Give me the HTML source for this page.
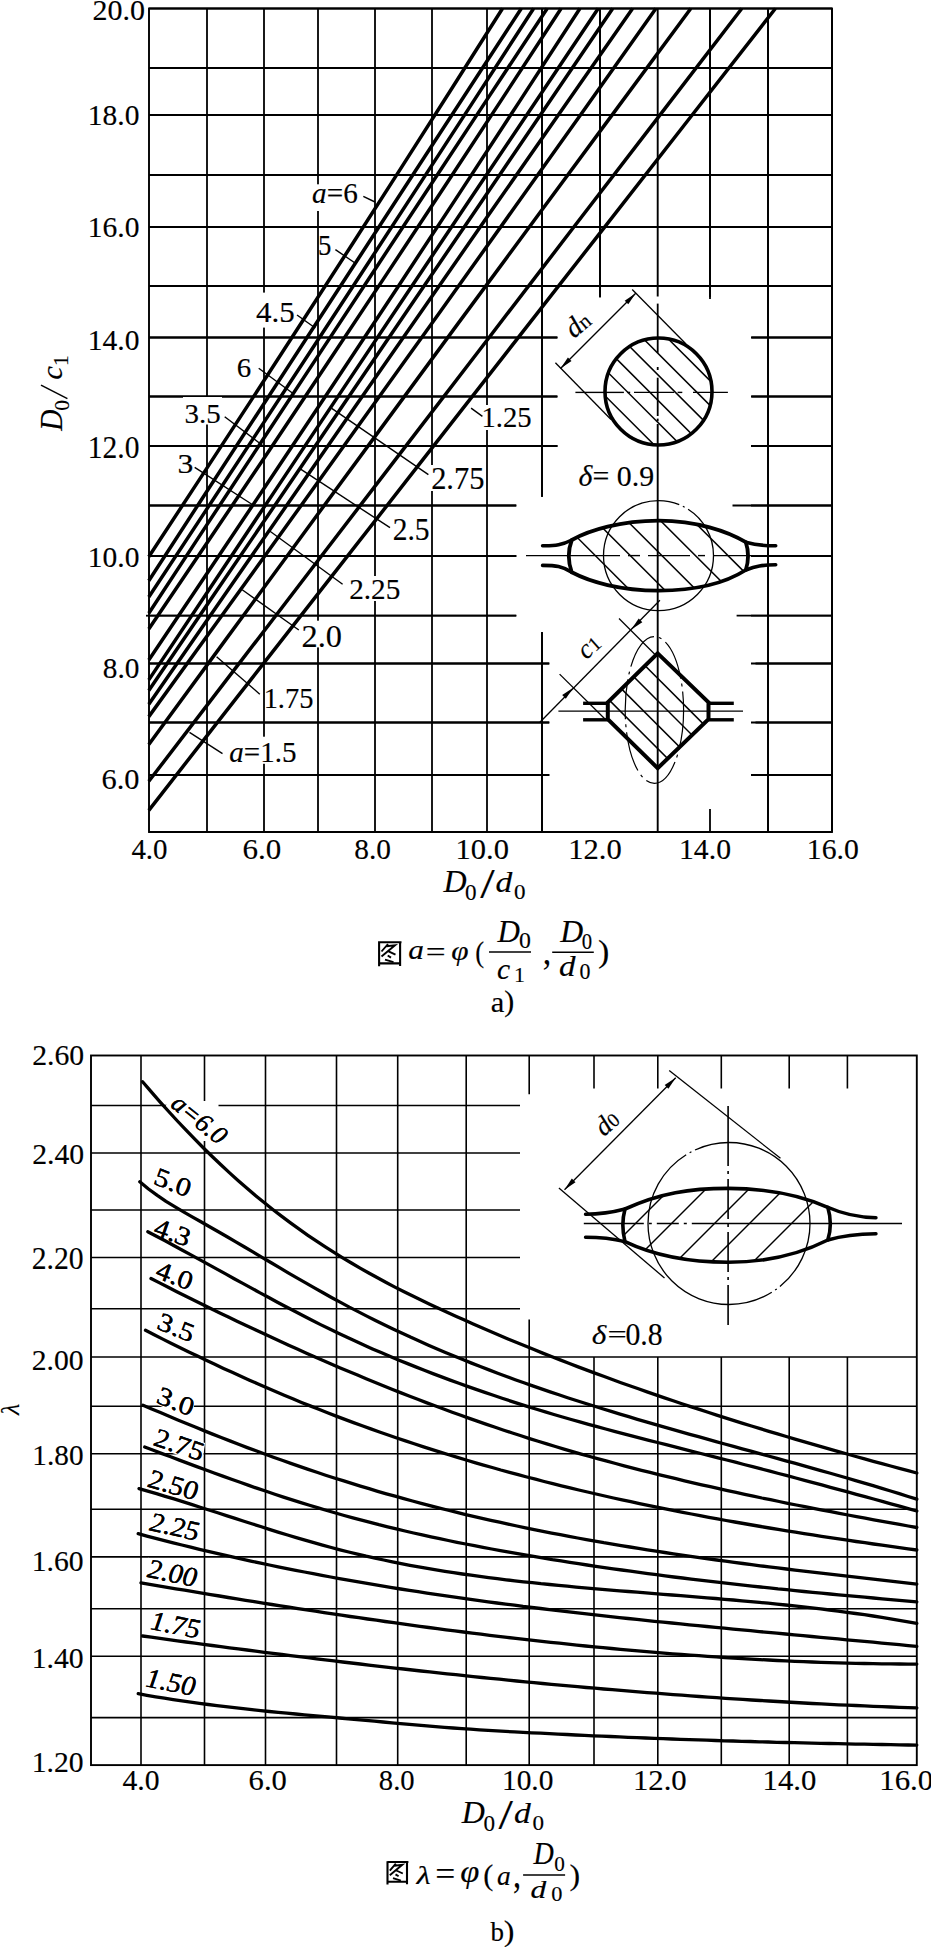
<!DOCTYPE html><html><head><meta charset="utf-8"><style>html,body{margin:0;padding:0;background:#fff;width:931px;height:1947px;overflow:hidden}svg{display:block}text{font-family:"Liberation Serif",serif;fill:#000;stroke:#000;stroke-width:0.15px}</style></head><body>
<svg width="931" height="1947" viewBox="0 0 931 1947" stroke="#000" fill="none" stroke-linecap="butt">
<line x1="207" y1="8.5" x2="207" y2="832" stroke-width="1.8"/>
<line x1="264" y1="8.5" x2="264" y2="832" stroke-width="1.8"/>
<line x1="318" y1="8.5" x2="318" y2="832" stroke-width="1.8"/>
<line x1="375" y1="8.5" x2="375" y2="832" stroke-width="1.8"/>
<line x1="432" y1="8.5" x2="432" y2="832" stroke-width="1.8"/>
<line x1="487" y1="8.5" x2="487" y2="832" stroke-width="1.8"/>
<line x1="542" y1="8.5" x2="542" y2="832" stroke-width="1.8"/>
<line x1="600" y1="8.5" x2="600" y2="832" stroke-width="1.8"/>
<line x1="710" y1="8.5" x2="710" y2="832" stroke-width="1.8"/>
<line x1="768" y1="8.5" x2="768" y2="832" stroke-width="1.8"/>
<line x1="149" y1="68" x2="832" y2="68" stroke-width="1.8"/>
<line x1="149" y1="115" x2="832" y2="115" stroke-width="1.8"/>
<line x1="149" y1="175" x2="832" y2="175" stroke-width="1.8"/>
<line x1="149" y1="227" x2="832" y2="227" stroke-width="1.8"/>
<line x1="149" y1="286" x2="832" y2="286" stroke-width="1.8"/>
<line x1="149" y1="337.5" x2="832" y2="337.5" stroke-width="1.8"/>
<line x1="149" y1="396.5" x2="832" y2="396.5" stroke-width="1.8"/>
<line x1="149" y1="446" x2="832" y2="446" stroke-width="1.8"/>
<line x1="149" y1="505.5" x2="832" y2="505.5" stroke-width="1.8"/>
<line x1="149" y1="556" x2="832" y2="556" stroke-width="1.8"/>
<line x1="149" y1="615.7" x2="832" y2="615.7" stroke-width="1.8"/>
<line x1="149" y1="663.5" x2="832" y2="663.5" stroke-width="1.8"/>
<line x1="149" y1="722.5" x2="832" y2="722.5" stroke-width="1.8"/>
<line x1="149" y1="775" x2="832" y2="775" stroke-width="1.8"/>
<rect x="149" y="8.5" width="683" height="823.5" stroke-width="1.9"/>
<path fill="#fff" stroke="none" d="M557,297 H751 V832 H557 Z"/>
<path fill="#fff" stroke="none" d="M516.5,497 H557 V632 H516.5 Z"/>
<path fill="#fff" stroke="none" d="M549.5,632 H557 V832 H549.5 Z"/>
<path fill="#fff" stroke="none" d="M543.5,440 H557 V497 H543.5 Z"/>
<line x1="657.7" y1="8.5" x2="657.7" y2="296.5" stroke-width="1.9"/>
<line x1="657.7" y1="424" x2="657.7" y2="832" stroke-width="1.9"/>
<line x1="710" y1="8.5" x2="710" y2="299" stroke-width="1.8"/>
<line x1="710" y1="809" x2="710" y2="832" stroke-width="1.8"/>
<line x1="600" y1="8.5" x2="600" y2="297.5" stroke-width="1.8"/>
<line x1="751.5" y1="337.5" x2="832" y2="337.5" stroke-width="1.8"/>
<line x1="751.5" y1="396.5" x2="832" y2="396.5" stroke-width="1.8"/>
<line x1="751.5" y1="446" x2="832" y2="446" stroke-width="1.8"/>
<line x1="732.5" y1="505.5" x2="832" y2="505.5" stroke-width="1.8"/>
<line x1="736.6" y1="615.7" x2="832" y2="615.7" stroke-width="1.8"/>
<line x1="755.5" y1="663.5" x2="832" y2="663.5" stroke-width="1.8"/>
<line x1="149" y1="663.5" x2="549" y2="663.5" stroke-width="1.8"/>
<line x1="755.5" y1="722.5" x2="832" y2="722.5" stroke-width="1.8"/>
<line x1="149" y1="722.5" x2="549" y2="722.5" stroke-width="1.8"/>
<line x1="755.5" y1="775" x2="832" y2="775" stroke-width="1.8"/>
<line x1="149" y1="775" x2="549" y2="775" stroke-width="1.8"/>
<line x1="149" y1="337.5" x2="557.7" y2="337.5" stroke-width="1.8"/>
<line x1="149" y1="396.5" x2="557.7" y2="396.5" stroke-width="1.8"/>
<line x1="149" y1="446" x2="557.7" y2="446" stroke-width="1.8"/>
<line x1="149" y1="505.5" x2="516" y2="505.5" stroke-width="1.8"/>
<line x1="149" y1="556" x2="516" y2="556" stroke-width="1.8"/>
<line x1="149" y1="615.7" x2="516" y2="615.7" stroke-width="1.8"/>
<line x1="768" y1="8.5" x2="768" y2="832" stroke-width="1.8"/>
<line x1="542" y1="632.2" x2="542" y2="832" stroke-width="1.8"/>
<line x1="542" y1="8.5" x2="542" y2="496.6" stroke-width="1.8"/>
<line x1="149" y1="8.5" x2="832" y2="8.5" stroke-width="1.9"/>
<line x1="832" y1="8.5" x2="832" y2="832" stroke-width="2.0"/>
<line x1="149" y1="832" x2="832" y2="832" stroke-width="2.0"/>
<line x1="751.5" y1="556" x2="832" y2="556" stroke-width="1.8"/>
<line x1="146" y1="615.7" x2="149" y2="615.7" stroke-width="1.8"/>
<rect x="310" y="184.3" width="50" height="26.7" fill="#fff" stroke="none"/>
<rect x="319.5" y="233" width="13.5" height="25" fill="#fff" stroke="none"/>
<rect x="253" y="292.6" width="43" height="35" fill="#fff" stroke="none"/>
<rect x="235" y="356" width="18" height="24" fill="#fff" stroke="none"/>
<rect x="183" y="397" width="39" height="27.5" fill="#fff" stroke="none"/>
<rect x="176" y="451" width="18" height="24" fill="#fff" stroke="none"/>
<rect x="430" y="465" width="56" height="26" fill="#fff" stroke="none"/>
<rect x="391" y="516" width="40" height="27" fill="#fff" stroke="none"/>
<rect x="348" y="576" width="54" height="25" fill="#fff" stroke="none"/>
<rect x="300" y="620.7" width="44" height="26.7" fill="#fff" stroke="none"/>
<rect x="265.5" y="686" width="49.5" height="25" fill="#fff" stroke="none"/>
<rect x="227" y="736.7" width="71" height="27.1" fill="#fff" stroke="none"/>
<rect x="481" y="405" width="52" height="25" fill="#fff" stroke="none"/>
<g transform="translate(312.12,202.50) scale(0.989,1)"><text x="0.00" y="0.00" font-size="29.55" font-style="italic">a</text><text x="14.78" y="0.00" font-size="29.55">=6</text></g>
<line x1="363.3" y1="196.4" x2="375" y2="202" stroke-width="1.4"/>
<g transform="translate(317.89,254.90) scale(0.881,1)"><text x="0.00" y="0.00" font-size="30.38">5</text></g>
<line x1="335.4" y1="249.6" x2="354.3" y2="262.5" stroke-width="1.4"/>
<g transform="translate(255.88,322.06) scale(1.047,1)"><text x="0.00" y="0.00" font-size="29.63">4.5</text></g>
<line x1="297" y1="315" x2="315.3" y2="328" stroke-width="1.4"/>
<g transform="translate(236.70,377.03) scale(1.060,1)"><text x="0.00" y="0.00" font-size="27.31">6</text></g>
<line x1="258.7" y1="368.2" x2="293.4" y2="393.7" stroke-width="1.4"/>
<g transform="translate(184.55,422.58) scale(1.029,1)"><text x="0.00" y="0.00" font-size="28.15">3.5</text></g>
<line x1="224.7" y1="416.8" x2="264.2" y2="446.7" stroke-width="1.4"/>
<g transform="translate(177.41,472.72) scale(1.118,1)"><text x="0.00" y="0.00" font-size="28.36">3</text></g>
<line x1="194.7" y1="467.4" x2="253" y2="505" stroke-width="1.4"/>
<g transform="translate(431.13,488.53) scale(0.979,1)"><text x="0.00" y="0.00" font-size="31.11">2.75</text></g>
<line x1="331.7" y1="408.4" x2="428.4" y2="474.7" stroke-width="1.4"/>
<g transform="translate(392.67,539.92) scale(0.931,1)"><text x="0.00" y="0.00" font-size="31.70">2.5</text></g>
<line x1="300.6" y1="469.2" x2="390" y2="527.7" stroke-width="1.4"/>
<g transform="translate(349.18,598.56) scale(0.987,1)"><text x="0.00" y="0.00" font-size="29.63">2.25</text></g>
<line x1="270" y1="531.3" x2="342.6" y2="584.3" stroke-width="1.4"/>
<g transform="translate(301.54,646.54) scale(1.048,1)"><text x="0.00" y="0.00" font-size="30.88">2.0</text></g>
<line x1="242.2" y1="589.7" x2="298.8" y2="630" stroke-width="1.4"/>
<g transform="translate(263.64,707.56) scale(0.970,1)"><text x="0.00" y="0.00" font-size="29.33">1.75</text></g>
<line x1="216.6" y1="656.7" x2="259.8" y2="694.2" stroke-width="1.4"/>
<g transform="translate(229.33,762.46) scale(0.990,1)"><text x="0.00" y="0.00" font-size="29.33" font-style="italic">a</text><text x="14.67" y="0.00" font-size="29.33">=1.5</text></g>
<line x1="189.5" y1="732.3" x2="222.5" y2="753.6" stroke-width="1.4"/>
<g transform="translate(481.42,427.25) scale(0.959,1)"><text x="0.00" y="0.00" font-size="29.93">1.25</text></g>
<line x1="471.1" y1="408.1" x2="482.4" y2="416.4" stroke-width="1.4"/>
<path d="M148.8,556.7 L200.2,478.4 L251.3,400.1 L302.1,321.8 L352.7,243.5 L402.9,165.1 L452.9,86.8 L502.5,8.5" stroke-width="3.5" fill="none"/>
<path d="M148.8,580.7 L201.9,499.0 L255.1,417.2 L308.3,335.5 L361.5,253.7 L414.7,172.0 L468.0,90.2 L521.3,8.5" stroke-width="3.5" fill="none"/>
<path d="M148.8,597.0 L204.3,512.9 L259.6,428.9 L314.8,344.8 L369.7,260.7 L424.5,176.6 L479.1,92.6 L533.6,8.5" stroke-width="3.5" fill="none"/>
<path d="M148.8,613.3 L205.5,526.9 L262.3,440.5 L319.2,354.1 L376.1,267.7 L433.1,181.3 L490.1,94.9 L547.2,8.5" stroke-width="3.5" fill="none"/>
<path d="M148.8,629.0 L208.8,540.3 L268.4,451.7 L327.6,363.0 L386.5,274.4 L445.1,185.8 L503.3,97.1 L561.1,8.5" stroke-width="3.5" fill="none"/>
<path d="M148.8,659.9 L211.5,566.8 L273.8,473.8 L335.8,380.7 L397.4,287.7 L458.6,194.6 L519.4,101.6 L579.9,8.5" stroke-width="3.5" fill="none"/>
<path d="M148.8,679.9 L212.8,584.0 L276.8,488.1 L340.9,392.1 L405.1,296.2 L469.4,200.3 L533.8,104.4 L598.2,8.5" stroke-width="3.5" fill="none"/>
<path d="M148.8,690.6 L215.1,593.1 L281.4,495.7 L347.7,398.2 L414.0,300.8 L480.3,203.4 L546.5,105.9 L612.7,8.5" stroke-width="3.5" fill="none"/>
<path d="M148.8,704.3 L217.6,604.9 L286.6,505.5 L355.6,406.1 L424.7,306.7 L493.9,207.3 L563.2,107.9 L632.6,8.5" stroke-width="3.5" fill="none"/>
<path d="M148.8,716.6 L221.9,615.5 L294.8,514.3 L367.5,413.1 L440.0,312.0 L512.2,210.8 L584.2,109.7 L655.9,8.5" stroke-width="3.5" fill="none"/>
<path d="M148.8,744.5 L225.9,639.4 L303.1,534.2 L380.4,429.1 L457.8,323.9 L535.4,218.8 L613.1,113.6 L690.8,8.5" stroke-width="3.5" fill="none"/>
<path d="M148.8,781.3 L233.4,670.9 L318.0,560.5 L402.7,450.1 L487.4,339.7 L572.1,229.3 L657.0,118.9 L741.8,8.5" stroke-width="3.5" fill="none"/>
<path d="M148.8,810.3 L238.3,695.7 L327.9,581.2 L417.4,466.7 L506.9,352.1 L596.4,237.6 L685.9,123.0 L775.4,8.5" stroke-width="3.5" fill="none"/>
<g transform="translate(92.55,20.25) scale(1.006,1)"><text x="0.00" y="0.00" font-size="29.85">20.0</text></g>
<g transform="translate(87.84,124.65) scale(0.988,1)"><text x="0.00" y="0.00" font-size="29.85">18.0</text></g>
<g transform="translate(87.84,236.64) scale(0.969,1)"><text x="0.00" y="0.00" font-size="30.44">16.0</text></g>
<g transform="translate(87.84,350.35) scale(0.988,1)"><text x="0.00" y="0.00" font-size="29.85">14.0</text></g>
<g transform="translate(87.84,457.73) scale(0.951,1)"><text x="0.00" y="0.00" font-size="31.03">12.0</text></g>
<g transform="translate(87.84,566.65) scale(0.988,1)"><text x="0.00" y="0.00" font-size="29.85">10.0</text></g>
<g transform="translate(102.83,677.75) scale(0.982,1)"><text x="0.00" y="0.00" font-size="29.85">8.0</text></g>
<g transform="translate(101.53,789.24) scale(0.998,1)"><text x="0.00" y="0.00" font-size="30.44">6.0</text></g>
<g transform="translate(131.42,859.27) scale(0.998,1)"><text x="0.00" y="0.00" font-size="28.97">4.0</text></g>
<g transform="translate(242.41,859.27) scale(1.070,1)"><text x="0.00" y="0.00" font-size="28.97">6.0</text></g>
<g transform="translate(354.32,859.27) scale(1.015,1)"><text x="0.00" y="0.00" font-size="28.97">8.0</text></g>
<g transform="translate(455.56,859.27) scale(1.053,1)"><text x="0.00" y="0.00" font-size="28.97">10.0</text></g>
<g transform="translate(568.25,859.27) scale(1.055,1)"><text x="0.00" y="0.00" font-size="28.97">12.0</text></g>
<g transform="translate(679.03,859.27) scale(1.025,1)"><text x="0.00" y="0.00" font-size="28.97">14.0</text></g>
<g transform="translate(806.83,859.27) scale(1.025,1)"><text x="0.00" y="0.00" font-size="28.97">16.0</text></g>
<g transform="translate(0,500) rotate(-90)">
<g transform="translate(69.29,62.10) scale(0.948,1)"><text x="0.00" y="0.00" font-size="30.99" font-style="italic">D</text></g>
<g transform="translate(89.14,68.68) scale(0.984,1)"><text x="0.00" y="0.00" font-size="21.78">0</text></g>
<g transform="translate(120.28,61.81) scale(1.057,1)"><text x="0.00" y="0.00" font-size="28.96" font-style="italic">c</text></g>
<g transform="translate(134.05,67.70) scale(1.000,1)"><text x="0.00" y="0.00" font-size="21.52">1</text></g>
</g>
<line x1="41" y1="385.2" x2="67.4" y2="398.7" stroke-width="1.5"/>
<clipPath id="cc"><circle cx="658.5" cy="391.5" r="53.5"/></clipPath>
<line x1="458.5" y1="129.1" x2="858.5" y2="529.1" stroke-width="1.5" clip-path="url(#cc)"/>
<line x1="458.5" y1="153.9" x2="858.5" y2="553.9" stroke-width="1.5" clip-path="url(#cc)"/>
<line x1="458.5" y1="175.4" x2="858.5" y2="575.4" stroke-width="1.5" clip-path="url(#cc)"/>
<line x1="458.5" y1="200.9" x2="858.5" y2="600.9" stroke-width="1.5" clip-path="url(#cc)"/>
<line x1="458.5" y1="223.0" x2="858.5" y2="623.0" stroke-width="1.5" clip-path="url(#cc)"/>
<line x1="458.5" y1="249.2" x2="858.5" y2="649.2" stroke-width="1.5" clip-path="url(#cc)"/>
<circle cx="658.5" cy="391.5" r="53.5" stroke-width="3.6" fill="none"/>
<line x1="595" y1="392.4" x2="623.9" y2="392.4" stroke-width="1.4"/>
<line x1="627.2" y1="392.4" x2="630.2" y2="392.4" stroke-width="1.4"/>
<line x1="634" y1="392.4" x2="674.2" y2="392.4" stroke-width="1.4"/>
<line x1="677.6" y1="392.4" x2="682.3" y2="392.4" stroke-width="1.4"/>
<line x1="693" y1="392.4" x2="727.9" y2="392.4" stroke-width="1.4"/>
<line x1="657.7" y1="303.6" x2="657.7" y2="352.8" stroke-width="1.8"/>
<line x1="657.7" y1="367" x2="657.7" y2="370" stroke-width="1.8"/>
<line x1="657.7" y1="377.7" x2="657.7" y2="416" stroke-width="1.8"/>
<line x1="657.7" y1="418.6" x2="657.7" y2="421.3" stroke-width="1.8"/>
<line x1="575.4" y1="392.4" x2="595" y2="392.4" stroke-width="1.4"/>
<line x1="555.4" y1="362.7" x2="611" y2="419.5" stroke-width="1.3"/>
<line x1="632.2" y1="289.5" x2="686" y2="344" stroke-width="1.3"/>
<line x1="560.5" y1="368.5" x2="635.7" y2="293.3" stroke-width="1.3"/>
<path d="M560.5,368.5 L571.5,361.1 L567.9,357.5 Z" fill="#000" stroke="none"/>
<path d="M635.7,293.3 L624.7,300.7 L628.3,304.3 Z" fill="#000" stroke="none"/>
<g transform="translate(577.50,323.50) rotate(-40.0)"><g transform="scale(1.000,1) translate(-12.53,9.59)"><text x="0.00" y="0.00" font-size="28.00" font-style="italic">d</text><text x="14.00" y="0.00" font-size="21.00">n</text></g></g>
<g transform="translate(578.60,486.07) scale(1.042,1)"><text x="0.00" y="0.00" font-size="28.67" font-style="italic">δ</text><text x="13.33" y="0.00" font-size="28.67">= 0.9</text></g>
<circle cx="658.5" cy="555.6" r="55" stroke-width="1.3" fill="none" stroke-dasharray="280,4,2,4,55.6"/>
<clipPath id="lc"><path d="M571.8,540 C590,530 620,521 658.8,520.7 C697,521 727,531 745.8,542.2 C749,552 749,560 745.8,570 C727,582 697,590.5 658.8,590.6 C620,590.5 590,582 571.8,572.3 C568,562 568,550 571.8,540 Z"/></clipPath>
<line x1="458.5" y1="418.8" x2="858.5" y2="818.8" stroke-width="1.5" clip-path="url(#lc)"/>
<line x1="458.5" y1="383.8" x2="858.5" y2="783.8" stroke-width="1.5" clip-path="url(#lc)"/>
<line x1="458.5" y1="352.2" x2="858.5" y2="752.2" stroke-width="1.5" clip-path="url(#lc)"/>
<line x1="458.5" y1="318.7" x2="858.5" y2="718.7" stroke-width="1.5" clip-path="url(#lc)"/>
<line x1="458.5" y1="286.1" x2="858.5" y2="686.1" stroke-width="1.5" clip-path="url(#lc)"/>
<path d="M571.8,540 C590,530 620,521 658.8,520.7 C697,521 727,531 745.8,542.2 C749,552 749,560 745.8,570 C727,582 697,590.5 658.8,590.6 C620,590.5 590,582 571.8,572.3 C568,562 568,550 571.8,540 Z" stroke-width="3.8" fill="none"/>
<path d="M571.8,540 C562,545 556,546 542.6,545.8 M571.8,572.3 C562,566 556,565.5 542.6,565.4 M745.8,542.2 C756,545 762,546 775.7,545.8 M745.8,570 C756,566 762,565 775.7,564.8" stroke-width="3.6" stroke-linecap="round"/>
<line x1="526" y1="555.6" x2="620" y2="555.6" stroke-width="1.4"/>
<line x1="628" y1="555.6" x2="640" y2="555.6" stroke-width="1.4"/>
<line x1="648" y1="555.6" x2="690" y2="555.6" stroke-width="1.4"/>
<line x1="698" y1="555.6" x2="705" y2="555.6" stroke-width="1.4"/>
<line x1="713" y1="555.6" x2="790" y2="555.6" stroke-width="1.4"/>
<clipPath id="dc"><path d="M657.7,653.4 L708.5,702.4 L708.5,719.2 L657.7,768.2 L607.8,719.2 L607.8,702.4 Z"/></clipPath>
<ellipse cx="654.4" cy="710" rx="29.2" ry="73.3" stroke-width="1.2" fill="none" stroke-dasharray="40,5,3,5"/>
<line x1="457.7" y1="478.3" x2="857.7" y2="878.3" stroke-width="1.5" clip-path="url(#dc)"/>
<line x1="457.7" y1="500.7" x2="857.7" y2="900.7" stroke-width="1.5" clip-path="url(#dc)"/>
<line x1="457.7" y1="525.1" x2="857.7" y2="925.1" stroke-width="1.5" clip-path="url(#dc)"/>
<line x1="457.7" y1="548.6" x2="857.7" y2="948.6" stroke-width="1.5" clip-path="url(#dc)"/>
<path d="M657.7,653.4 L708.5,702.4 L708.5,719.2 L657.7,768.2 L607.8,719.2 L607.8,702.4 Z" stroke-width="4" fill="none" stroke-linejoin="miter"/>
<line x1="583.1" y1="703.3" x2="607.8" y2="703.3" stroke-width="3.4"/>
<line x1="708.5" y1="703.3" x2="733.8" y2="703.3" stroke-width="3.4"/>
<line x1="583.1" y1="719.8" x2="607.8" y2="719.8" stroke-width="3.4"/>
<line x1="708.5" y1="719.8" x2="733.8" y2="719.8" stroke-width="3.4"/>
<line x1="558.4" y1="711.2" x2="743" y2="711.2" stroke-width="1.3"/>
<line x1="619" y1="618.5" x2="655" y2="654.5" stroke-width="1.3"/>
<line x1="559.6" y1="674.1" x2="606" y2="720" stroke-width="1.3"/>
<line x1="539.9" y1="722.3" x2="659.9" y2="600.3" stroke-width="1.3"/>
<path d="M573.2,687.7 L562.2,695.1 L565.8,698.7 Z" fill="#000" stroke="none"/>
<path d="M631.3,629.6 L642.3,622.2 L638.7,618.6 Z" fill="#000" stroke="none"/>
<g transform="translate(590.00,648.00) rotate(-42.0)"><g transform="scale(1.000,1) translate(-10.87,6.55)"><text x="0.00" y="0.00" font-size="27.00" font-style="italic">c</text><text x="11.98" y="0.00" font-size="20.25">1</text></g></g>
<path d="M379.1,941.3 L379.1,966.3 M400.1,941.3 L400.1,966.0 M379.1,942.2 L401.5,942.2 M379.1,963.4 L400.1,963.4" stroke-width="2.09"/>
<path d="M388.0,944.0 L381.5,951.5 M386.5,946.2 L395.0,945.2 L381.5,956.5 M387.5,950.8 L395.5,954.6 M387.7,955.5 L391.0,957.6 M385.0,959.6 L393.5,962.2" stroke-width="1.90"/>
<g transform="translate(408.26,959.42) scale(1.108,1)"><text x="0.00" y="0.00" font-size="28.33" font-style="italic">a</text></g>
<g transform="translate(425.84,960.88) scale(1.297,1)"><text x="0.00" y="0.00" font-size="27.20">=</text></g>
<g transform="translate(451.26,959.91) scale(1.106,1)"><text x="0.00" y="0.00" font-size="28.32" font-style="italic">φ</text></g>
<g transform="translate(475.20,962.42) scale(0.899,1)"><text x="0.00" y="0.00" font-size="29.67">(</text></g>
<g transform="translate(497.41,941.60) scale(0.987,1)"><text x="0.00" y="0.00" font-size="31.45" font-style="italic">D</text></g>
<g transform="translate(519.05,948.47) scale(1.057,1)"><text x="0.00" y="0.00" font-size="22.52">0</text></g>
<line x1="489" y1="951.9" x2="531" y2="951.9" stroke-width="1.5"/>
<g transform="translate(497.11,978.71) scale(1.023,1)"><text x="0.00" y="0.00" font-size="28.96" font-style="italic">c</text></g>
<g transform="translate(513.93,981.90) scale(1.000,1)"><text x="0.00" y="0.00" font-size="21.97">1</text></g>
<g transform="translate(542.65,964.45) scale(0.898,1)"><text x="0.00" y="0.00" font-size="37.65">,</text></g>
<g transform="translate(560.32,941.60) scale(1.000,1)"><text x="0.00" y="0.00" font-size="31.76" font-style="italic">D</text></g>
<g transform="translate(581.87,948.58) scale(0.938,1)"><text x="0.00" y="0.00" font-size="22.07">0</text></g>
<line x1="552.2" y1="952.2" x2="593.8" y2="952.2" stroke-width="1.5"/>
<g transform="translate(559.01,975.71) scale(1.140,1)"><text x="0.00" y="0.00" font-size="28.94" font-style="italic">d</text></g>
<g transform="translate(579.42,979.08) scale(0.986,1)"><text x="0.00" y="0.00" font-size="22.22">0</text></g>
<g transform="translate(598.08,962.06) scale(1.096,1)"><text x="0.00" y="0.00" font-size="30.88">)</text></g>
<g transform="translate(490.73,1011.80) scale(1.014,1)"><text x="0.00" y="0.00" font-size="30.21">a</text></g>
<g transform="translate(504.30,1011.22) scale(1.026,1)"><text x="0.00" y="0.00" font-size="29.23">)</text></g>
<line x1="141" y1="1055.5" x2="141" y2="1765.1" stroke-width="1.6"/>
<line x1="204.5" y1="1055.5" x2="204.5" y2="1765.1" stroke-width="1.6"/>
<line x1="265.5" y1="1055.5" x2="265.5" y2="1765.1" stroke-width="1.6"/>
<line x1="336.5" y1="1055.5" x2="336.5" y2="1765.1" stroke-width="1.6"/>
<line x1="397.7" y1="1055.5" x2="397.7" y2="1765.1" stroke-width="1.6"/>
<line x1="466.2" y1="1055.5" x2="466.2" y2="1765.1" stroke-width="1.6"/>
<line x1="529.2" y1="1357" x2="529.2" y2="1765.1" stroke-width="1.6"/>
<line x1="594" y1="1357" x2="594" y2="1765.1" stroke-width="1.6"/>
<line x1="657.8" y1="1357" x2="657.8" y2="1765.1" stroke-width="1.6"/>
<line x1="721.3" y1="1357" x2="721.3" y2="1765.1" stroke-width="1.6"/>
<line x1="789.2" y1="1357" x2="789.2" y2="1765.1" stroke-width="1.6"/>
<line x1="847.4" y1="1357" x2="847.4" y2="1765.1" stroke-width="1.6"/>
<line x1="91" y1="1105.5" x2="520" y2="1105.5" stroke-width="1.6"/>
<line x1="91" y1="1153" x2="520" y2="1153" stroke-width="1.6"/>
<line x1="91" y1="1210" x2="520" y2="1210" stroke-width="1.6"/>
<line x1="91" y1="1257.5" x2="520" y2="1257.5" stroke-width="1.6"/>
<line x1="91" y1="1308.8" x2="520" y2="1308.8" stroke-width="1.6"/>
<line x1="91" y1="1357" x2="916.8" y2="1357" stroke-width="1.6"/>
<line x1="91" y1="1406.2" x2="916.8" y2="1406.2" stroke-width="1.6"/>
<line x1="91" y1="1453.8" x2="916.8" y2="1453.8" stroke-width="1.6"/>
<line x1="91" y1="1509.3" x2="916.8" y2="1509.3" stroke-width="1.6"/>
<line x1="91" y1="1556.9" x2="916.8" y2="1556.9" stroke-width="1.6"/>
<line x1="91" y1="1608.8" x2="916.8" y2="1608.8" stroke-width="1.6"/>
<line x1="91" y1="1656.3" x2="916.8" y2="1656.3" stroke-width="1.6"/>
<line x1="91" y1="1717.6" x2="916.8" y2="1717.6" stroke-width="1.6"/>
<rect x="91" y="1055.5" width="825.8" height="709.5999999999999" stroke-width="1.9"/>
<line x1="529.2" y1="1055.5" x2="529.2" y2="1094.3" stroke-width="1.6"/>
<line x1="529.2" y1="1319.6" x2="529.2" y2="1357" stroke-width="1.6"/>
<line x1="594" y1="1055.5" x2="594" y2="1088.5" stroke-width="1.6"/>
<line x1="657.8" y1="1055.5" x2="657.8" y2="1088.5" stroke-width="1.6"/>
<line x1="721.3" y1="1055.5" x2="721.3" y2="1088.5" stroke-width="1.6"/>
<line x1="789.2" y1="1055.5" x2="789.2" y2="1088.5" stroke-width="1.6"/>
<line x1="847.4" y1="1055.5" x2="847.4" y2="1088.5" stroke-width="1.6"/>
<circle cx="729" cy="1223.5" r="81" stroke-width="1.3" fill="none" stroke-dasharray="72,4,2,4,254,4,2,4,163"/>
<clipPath id="blc"><path d="M625,1209 C660,1193 690,1188.4 728.1,1188.4 C766,1188.4 800,1195 827.8,1207.3 C831,1218 831,1230 827.8,1240 C800,1254 766,1262.3 728.1,1262.3 C690,1262.3 655,1256 625,1241.7 C622,1230 622,1220 625,1209 Z"/></clipPath>
<line x1="579" y1="1280" x2="879" y2="980" stroke-width="1.4" clip-path="url(#blc)"/>
<line x1="579" y1="1316" x2="879" y2="1016" stroke-width="1.4" clip-path="url(#blc)"/>
<line x1="579" y1="1359" x2="879" y2="1059" stroke-width="1.4" clip-path="url(#blc)"/>
<line x1="579" y1="1394" x2="879" y2="1094" stroke-width="1.4" clip-path="url(#blc)"/>
<line x1="579" y1="1436" x2="879" y2="1136" stroke-width="1.4" clip-path="url(#blc)"/>
<path d="M625,1209 C660,1193 690,1188.4 728.1,1188.4 C766,1188.4 800,1195 827.8,1207.3 C831,1218 831,1230 827.8,1240 C800,1254 766,1262.3 728.1,1262.3 C690,1262.3 655,1256 625,1241.7 C622,1230 622,1220 625,1209 Z" stroke-width="3.6" fill="none"/>
<path d="M625,1209 C610,1213 600,1214.2 585.5,1214.2 M625,1241.7 C610,1238 600,1237.3 585.5,1237.3 M827.8,1207.3 C845,1215 860,1217.5 876,1217.7 M827.8,1240 C845,1235 860,1234 876,1233.8" stroke-width="3.4" stroke-linecap="round"/>
<line x1="583.8" y1="1223.5" x2="902" y2="1223.5" stroke-width="1.3" stroke-dasharray="60,5,3,5,22,5,3,5,300"/>
<line x1="728.1" y1="1106" x2="728.1" y2="1327" stroke-width="1.6" stroke-dasharray="60,5,3,5,40,5,3,5,40,5,3,5,40,5,3,5,200"/>
<line x1="558.9" y1="1188" x2="664.5" y2="1278" stroke-width="1.3"/>
<line x1="669.2" y1="1070.5" x2="780.5" y2="1158.3" stroke-width="1.3"/>
<line x1="564.5" y1="1189.7" x2="675.7" y2="1077.7" stroke-width="1.3"/>
<path d="M564.5,1189.7 L575.5,1182.3 L571.8,1178.6 Z" fill="#000" stroke="none"/>
<path d="M675.7,1077.7 L664.7,1085.1 L668.4,1088.8 Z" fill="#000" stroke="none"/>
<g transform="translate(606.50,1122.50) rotate(-42.0)"><g transform="scale(1.000,1) translate(-11.68,9.25)"><text x="0.00" y="0.00" font-size="27.00" font-style="italic">d</text><text x="13.50" y="0.00" font-size="19.44">0</text></g></g>
<g transform="translate(591.76,1343.73) scale(1.153,1)"><text x="0.00" y="0.00" font-size="27.18" font-style="italic">δ</text></g>
<g transform="translate(607.49,1341.56) scale(1.474,1)"><text x="0.00" y="0.00" font-size="23.20">=</text></g>
<g transform="translate(625.41,1345.03) scale(0.950,1)"><text x="0.00" y="0.00" font-size="31.32">0.8</text></g>
<rect x="168.5" y="1101" width="50" height="40" fill="#fff" stroke="none"/>
<g transform="translate(199.50,1119.50) rotate(39.0)"><rect x="-35.0" y="-12.8" width="70.0" height="25.7" fill="#fff" stroke="none"/><g transform="scale(1.000,1) translate(-31.78,8.45)"><text x="0.00" y="0.00" font-size="26.00" font-style="italic">a=6.0</text></g></g>
<g transform="translate(172.50,1182.50) skewY(22.0) skewX(-8) scale(1.000,1)"><rect x="-18.2" y="-10.5" width="36.3" height="21.0" fill="#fff" stroke="none"/><g transform="translate(-17.57,9.10)"><text x="0.00" y="0.00" font-size="28.00" font-style="italic">5.0</text></g></g>
<g transform="translate(171.80,1232.50) skewY(19.0) skewX(-8) scale(1.000,1)"><rect x="-17.9" y="-10.5" width="35.9" height="20.9" fill="#fff" stroke="none"/><g transform="translate(-17.08,9.03)"><text x="0.00" y="0.00" font-size="28.00" font-style="italic">4.3</text></g></g>
<g transform="translate(174.30,1275.80) skewY(21.0) skewX(-8) scale(1.000,1)"><rect x="-18.3" y="-10.5" width="36.6" height="21.0" fill="#fff" stroke="none"/><g transform="translate(-17.43,9.10)"><text x="0.00" y="0.00" font-size="28.00" font-style="italic">4.0</text></g></g>
<g transform="translate(175.70,1327.50) skewY(22.0) skewX(-8) scale(1.000,1)"><rect x="-18.1" y="-10.5" width="36.2" height="20.9" fill="#fff" stroke="none"/><g transform="translate(-17.08,9.03)"><text x="0.00" y="0.00" font-size="28.00" font-style="italic">3.5</text></g></g>
<g transform="translate(175.30,1401.50) skewY(22.0) skewX(-8) scale(1.000,1)"><rect x="-18.4" y="-10.5" width="36.7" height="21.0" fill="#fff" stroke="none"/><g transform="translate(-17.36,9.10)"><text x="0.00" y="0.00" font-size="28.00" font-style="italic">3.0</text></g></g>
<g transform="translate(178.50,1444.70) skewY(18.5) skewX(-8) scale(1.000,1)"><rect x="-25.1" y="-10.5" width="50.2" height="20.9" fill="#fff" stroke="none"/><g transform="translate(-24.08,9.03)"><text x="0.00" y="0.00" font-size="28.00" font-style="italic">2.75</text></g></g>
<g transform="translate(173.00,1484.90) skewY(16.0) skewX(-8) scale(1.000,1)"><rect x="-25.4" y="-10.5" width="50.7" height="21.0" fill="#fff" stroke="none"/><g transform="translate(-24.36,9.10)"><text x="0.00" y="0.00" font-size="28.00" font-style="italic">2.50</text></g></g>
<g transform="translate(174.00,1526.80) skewY(12.5) skewX(-8) scale(1.000,1)"><rect x="-25.1" y="-10.5" width="50.2" height="20.9" fill="#fff" stroke="none"/><g transform="translate(-24.08,9.03)"><text x="0.00" y="0.00" font-size="28.00" font-style="italic">2.25</text></g></g>
<g transform="translate(172.20,1573.20) skewY(11.5) skewX(-8) scale(1.000,1)"><rect x="-25.4" y="-10.5" width="50.7" height="21.0" fill="#fff" stroke="none"/><g transform="translate(-24.36,9.10)"><text x="0.00" y="0.00" font-size="28.00" font-style="italic">2.00</text></g></g>
<g transform="translate(175.70,1625.20) skewY(11.5) skewX(-8) scale(1.000,1)"><rect x="-24.6" y="-10.5" width="49.2" height="20.9" fill="#fff" stroke="none"/><g transform="translate(-24.57,9.03)"><text x="0.00" y="0.00" font-size="28.00" font-style="italic">1.75</text></g></g>
<g transform="translate(171.20,1682.40) skewY(11.5) skewX(-8) scale(1.000,1)"><rect x="-24.9" y="-10.5" width="49.7" height="21.0" fill="#fff" stroke="none"/><g transform="translate(-24.85,9.10)"><text x="0.00" y="0.00" font-size="28.00" font-style="italic">1.50</text></g></g>
<path d="M142.6,1081.7 L151.3,1091.9 L160.0,1101.8 L168.7,1111.5 L177.4,1121.0 L186.1,1130.2 L194.8,1139.2 L203.5,1148.0 L212.2,1156.5 L220.9,1164.8 L229.6,1172.9 L238.3,1180.7 L247.0,1188.3 L255.7,1195.7 L264.4,1202.8 L273.1,1209.7 L281.8,1216.4 L290.5,1222.9 L299.2,1229.2 L307.9,1235.3 L316.6,1241.2 L325.3,1246.9 L334.0,1252.4 L342.7,1257.8 L351.4,1263.0 L360.1,1268.1 L368.8,1273.0 L377.5,1277.8 L386.2,1282.5 L394.9,1287.1 L403.6,1291.5 L412.3,1295.8 L421.0,1300.1 L429.7,1304.2 L438.4,1308.3 L447.1,1312.3 L455.8,1316.2 L464.5,1320.1 L473.2,1324.0 L481.9,1327.8 L490.6,1331.5 L499.3,1335.2 L508.0,1338.9 L516.7,1342.5 L525.4,1346.0 L534.0,1349.6 L542.7,1353.1 L551.4,1356.5 L560.1,1359.9 L568.8,1363.3 L577.5,1366.6 L586.2,1369.9 L594.9,1373.1 L603.6,1376.3 L612.3,1379.5 L621.0,1382.7 L629.7,1385.8 L638.4,1388.8 L647.1,1391.9 L655.8,1394.9 L664.5,1397.9 L673.2,1400.8 L681.9,1403.7 L690.6,1406.6 L699.3,1409.4 L708.0,1412.3 L716.7,1415.1 L725.4,1417.8 L734.1,1420.6 L742.8,1423.3 L751.5,1426.0 L760.2,1428.6 L768.9,1431.3 L777.6,1433.9 L786.3,1436.5 L795.0,1439.1 L803.7,1441.6 L812.4,1444.1 L821.1,1446.6 L829.8,1449.1 L838.5,1451.6 L847.2,1454.0 L855.9,1456.5 L864.6,1458.9 L873.3,1461.3 L882.0,1463.7 L890.7,1466.0 L899.4,1468.4 L908.1,1470.7 L916.8,1473.0" stroke-width="3.3" fill="none" stroke-linejoin="round" stroke-linecap="round"/>
<path d="M139.8,1181.8 L148.5,1189.0 L157.3,1195.4 L166.0,1201.3 L174.7,1206.7 L183.5,1211.9 L192.2,1216.9 L200.9,1221.8 L209.6,1226.7 L218.4,1231.7 L227.1,1236.7 L235.8,1241.8 L244.6,1247.0 L253.3,1252.1 L262.0,1257.3 L270.8,1262.5 L279.5,1267.6 L288.2,1272.8 L296.9,1277.9 L305.7,1282.9 L314.4,1287.9 L323.1,1292.8 L331.9,1297.7 L340.6,1302.4 L349.3,1307.1 L358.1,1311.6 L366.8,1316.1 L375.5,1320.5 L384.2,1324.7 L393.0,1328.9 L401.7,1333.0 L410.4,1337.1 L419.2,1341.0 L427.9,1344.9 L436.6,1348.7 L445.4,1352.4 L454.1,1356.0 L462.8,1359.6 L471.6,1363.1 L480.3,1366.5 L489.0,1369.9 L497.7,1373.2 L506.5,1376.5 L515.2,1379.7 L523.9,1382.8 L532.7,1385.9 L541.4,1388.9 L550.1,1391.9 L558.9,1394.8 L567.6,1397.7 L576.3,1400.5 L585.0,1403.3 L593.8,1406.0 L602.5,1408.8 L611.2,1411.4 L620.0,1414.1 L628.7,1416.7 L637.4,1419.3 L646.2,1421.8 L654.9,1424.4 L663.6,1426.9 L672.4,1429.4 L681.1,1431.8 L689.8,1434.3 L698.5,1436.7 L707.3,1439.2 L716.0,1441.6 L724.7,1444.0 L733.5,1446.4 L742.2,1448.8 L750.9,1451.2 L759.7,1453.6 L768.4,1456.0 L777.1,1458.4 L785.8,1460.8 L794.6,1463.2 L803.3,1465.6 L812.0,1468.1 L820.8,1470.6 L829.5,1473.0 L838.2,1475.5 L847.0,1478.0 L855.7,1480.6 L864.4,1483.2 L873.1,1485.7 L881.9,1488.4 L890.6,1491.0 L899.3,1493.7 L908.1,1496.5 L916.8,1499.2" stroke-width="3.3" fill="none" stroke-linejoin="round" stroke-linecap="round"/>
<path d="M147.8,1231.7 L156.4,1236.2 L165.1,1240.8 L173.7,1245.5 L182.4,1250.2 L191.0,1254.9 L199.6,1259.6 L208.3,1264.4 L216.9,1269.1 L225.6,1273.9 L234.2,1278.7 L242.8,1283.4 L251.5,1288.1 L260.1,1292.9 L268.8,1297.5 L277.4,1302.2 L286.0,1306.8 L294.7,1311.3 L303.3,1315.8 L312.0,1320.2 L320.6,1324.6 L329.2,1328.8 L337.9,1333.0 L346.5,1337.1 L355.2,1341.1 L363.8,1345.0 L372.5,1348.9 L381.1,1352.6 L389.7,1356.3 L398.4,1359.9 L407.0,1363.4 L415.7,1366.9 L424.3,1370.3 L432.9,1373.6 L441.6,1376.9 L450.2,1380.1 L458.9,1383.3 L467.5,1386.4 L476.1,1389.4 L484.8,1392.4 L493.4,1395.3 L502.1,1398.2 L510.7,1401.1 L519.3,1403.9 L528.0,1406.6 L536.6,1409.3 L545.3,1411.9 L553.9,1414.5 L562.5,1417.0 L571.2,1419.5 L579.8,1421.9 L588.5,1424.3 L597.1,1426.7 L605.7,1429.0 L614.4,1431.3 L623.0,1433.6 L631.7,1435.9 L640.3,1438.1 L648.9,1440.3 L657.6,1442.5 L666.2,1444.7 L674.9,1446.9 L683.5,1449.1 L692.1,1451.3 L700.8,1453.5 L709.4,1455.6 L718.1,1457.8 L726.7,1460.0 L735.4,1462.2 L744.0,1464.5 L752.6,1466.7 L761.3,1468.9 L769.9,1471.2 L778.6,1473.5 L787.2,1475.7 L795.8,1478.0 L804.5,1480.3 L813.1,1482.6 L821.8,1484.9 L830.4,1487.3 L839.0,1489.6 L847.7,1491.9 L856.3,1494.3 L865.0,1496.7 L873.6,1499.0 L882.2,1501.4 L890.9,1503.8 L899.5,1506.2 L908.2,1508.6 L916.8,1511.0" stroke-width="3.3" fill="none" stroke-linejoin="round" stroke-linecap="round"/>
<path d="M151.0,1278.5 L159.6,1282.9 L168.2,1287.3 L176.8,1291.7 L185.4,1296.0 L194.0,1300.2 L202.6,1304.5 L211.2,1308.7 L219.8,1312.9 L228.4,1317.0 L237.0,1321.2 L245.6,1325.2 L254.3,1329.3 L262.9,1333.3 L271.5,1337.3 L280.1,1341.2 L288.7,1345.2 L297.3,1349.0 L305.9,1352.9 L314.5,1356.7 L323.1,1360.4 L331.7,1364.2 L340.3,1367.9 L348.9,1371.5 L357.5,1375.1 L366.1,1378.7 L374.7,1382.2 L383.3,1385.7 L391.9,1389.2 L400.5,1392.6 L409.1,1396.0 L417.7,1399.3 L426.3,1402.6 L434.9,1405.8 L443.6,1409.0 L452.2,1412.2 L460.8,1415.3 L469.4,1418.4 L478.0,1421.4 L486.6,1424.4 L495.2,1427.3 L503.8,1430.2 L512.4,1433.0 L521.0,1435.8 L529.6,1438.6 L538.2,1441.3 L546.8,1443.9 L555.4,1446.5 L564.0,1449.1 L572.6,1451.6 L581.2,1454.1 L589.8,1456.5 L598.4,1458.9 L607.0,1461.2 L615.6,1463.5 L624.2,1465.8 L632.9,1468.1 L641.5,1470.3 L650.1,1472.4 L658.7,1474.6 L667.3,1476.7 L675.9,1478.7 L684.5,1480.8 L693.1,1482.8 L701.7,1484.8 L710.3,1486.7 L718.9,1488.7 L727.5,1490.6 L736.1,1492.4 L744.7,1494.3 L753.3,1496.1 L761.9,1498.0 L770.5,1499.7 L779.1,1501.5 L787.7,1503.3 L796.3,1505.0 L804.9,1506.7 L813.5,1508.4 L822.2,1510.1 L830.8,1511.7 L839.4,1513.4 L848.0,1515.0 L856.6,1516.6 L865.2,1518.2 L873.8,1519.8 L882.4,1521.4 L891.0,1522.9 L899.6,1524.4 L908.2,1526.0 L916.8,1527.5" stroke-width="3.3" fill="none" stroke-linejoin="round" stroke-linecap="round"/>
<path d="M145.5,1330.3 L154.2,1334.7 L162.8,1339.1 L171.5,1343.4 L180.2,1347.7 L188.8,1351.9 L197.5,1356.1 L206.2,1360.2 L214.8,1364.3 L223.5,1368.4 L232.2,1372.3 L240.8,1376.3 L249.5,1380.2 L258.2,1384.0 L266.8,1387.8 L275.5,1391.5 L284.2,1395.2 L292.8,1398.8 L301.5,1402.4 L310.2,1405.9 L318.8,1409.3 L327.5,1412.7 L336.2,1416.1 L344.8,1419.4 L353.5,1422.6 L362.2,1425.8 L370.8,1428.9 L379.5,1432.0 L388.2,1435.0 L396.8,1438.0 L405.5,1440.9 L414.2,1443.8 L422.8,1446.6 L431.5,1449.4 L440.2,1452.1 L448.8,1454.8 L457.5,1457.4 L466.2,1460.0 L474.8,1462.6 L483.5,1465.1 L492.2,1467.5 L500.8,1470.0 L509.5,1472.3 L518.2,1474.7 L526.8,1477.0 L535.5,1479.2 L544.1,1481.5 L552.8,1483.7 L561.5,1485.8 L570.1,1487.9 L578.8,1490.0 L587.5,1492.0 L596.1,1494.0 L604.8,1496.0 L613.5,1498.0 L622.1,1499.9 L630.8,1501.7 L639.5,1503.6 L648.1,1505.4 L656.8,1507.2 L665.5,1508.9 L674.1,1510.7 L682.8,1512.4 L691.5,1514.0 L700.1,1515.7 L708.8,1517.3 L717.5,1518.9 L726.1,1520.5 L734.8,1522.0 L743.5,1523.5 L752.1,1525.0 L760.8,1526.5 L769.5,1528.0 L778.1,1529.4 L786.8,1530.8 L795.5,1532.2 L804.1,1533.6 L812.8,1534.9 L821.5,1536.3 L830.1,1537.6 L838.8,1538.9 L847.5,1540.2 L856.1,1541.5 L864.8,1542.7 L873.5,1544.0 L882.1,1545.2 L890.8,1546.4 L899.5,1547.6 L908.1,1548.8 L916.8,1550.0" stroke-width="3.3" fill="none" stroke-linejoin="round" stroke-linecap="round"/>
<path d="M143.0,1405.2 L151.7,1408.9 L160.4,1412.6 L169.1,1416.3 L177.8,1419.9 L186.5,1423.5 L195.2,1427.1 L203.9,1430.6 L212.6,1434.1 L221.2,1437.5 L229.9,1440.9 L238.6,1444.3 L247.3,1447.6 L256.0,1450.8 L264.7,1454.0 L273.4,1457.2 L282.1,1460.3 L290.8,1463.4 L299.5,1466.4 L308.2,1469.4 L316.9,1472.3 L325.6,1475.2 L334.3,1478.0 L343.0,1480.7 L351.7,1483.4 L360.4,1486.1 L369.1,1488.7 L377.7,1491.3 L386.4,1493.8 L395.1,1496.2 L403.8,1498.6 L412.5,1501.0 L421.2,1503.3 L429.9,1505.6 L438.6,1507.8 L447.3,1510.0 L456.0,1512.2 L464.7,1514.3 L473.4,1516.3 L482.1,1518.3 L490.8,1520.3 L499.5,1522.2 L508.2,1524.1 L516.9,1526.0 L525.6,1527.8 L534.2,1529.6 L542.9,1531.4 L551.6,1533.1 L560.3,1534.7 L569.0,1536.4 L577.7,1538.0 L586.4,1539.6 L595.1,1541.1 L603.8,1542.7 L612.5,1544.1 L621.2,1545.6 L629.9,1547.0 L638.6,1548.4 L647.3,1549.8 L656.0,1551.2 L664.7,1552.5 L673.4,1553.8 L682.1,1555.1 L690.7,1556.4 L699.4,1557.6 L708.1,1558.8 L716.8,1560.0 L725.5,1561.2 L734.2,1562.4 L742.9,1563.5 L751.6,1564.6 L760.3,1565.8 L769.0,1566.9 L777.7,1567.9 L786.4,1569.0 L795.1,1570.1 L803.8,1571.1 L812.5,1572.2 L821.2,1573.2 L829.9,1574.2 L838.6,1575.2 L847.2,1576.2 L855.9,1577.2 L864.6,1578.2 L873.3,1579.2 L882.0,1580.2 L890.7,1581.1 L899.4,1582.1 L908.1,1583.1 L916.8,1584.1" stroke-width="3.3" fill="none" stroke-linejoin="round" stroke-linecap="round"/>
<path d="M144.7,1447.0 L153.4,1450.3 L162.1,1453.6 L170.7,1456.8 L179.4,1460.1 L188.1,1463.4 L196.8,1466.6 L205.4,1469.8 L214.1,1473.0 L222.8,1476.1 L231.5,1479.3 L240.1,1482.3 L248.8,1485.4 L257.5,1488.4 L266.2,1491.3 L274.8,1494.2 L283.5,1497.1 L292.2,1499.9 L300.9,1502.6 L309.5,1505.3 L318.2,1507.9 L326.9,1510.5 L335.6,1513.0 L344.2,1515.5 L352.9,1517.9 L361.6,1520.2 L370.3,1522.4 L378.9,1524.7 L387.6,1526.8 L396.3,1528.9 L405.0,1531.0 L413.6,1533.0 L422.3,1534.9 L431.0,1536.8 L439.7,1538.7 L448.3,1540.5 L457.0,1542.3 L465.7,1544.0 L474.4,1545.7 L483.0,1547.4 L491.7,1549.0 L500.4,1550.6 L509.1,1552.2 L517.7,1553.7 L526.4,1555.2 L535.1,1556.7 L543.8,1558.1 L552.4,1559.6 L561.1,1560.9 L569.8,1562.3 L578.5,1563.7 L587.1,1565.0 L595.8,1566.3 L604.5,1567.6 L613.2,1568.8 L621.8,1570.0 L630.5,1571.2 L639.2,1572.4 L647.9,1573.6 L656.5,1574.7 L665.2,1575.9 L673.9,1577.0 L682.6,1578.0 L691.2,1579.1 L699.9,1580.2 L708.6,1581.2 L717.3,1582.2 L725.9,1583.2 L734.6,1584.2 L743.3,1585.1 L752.0,1586.1 L760.6,1587.0 L769.3,1587.9 L778.0,1588.9 L786.7,1589.7 L795.3,1590.6 L804.0,1591.5 L812.7,1592.3 L821.4,1593.2 L830.0,1594.0 L838.7,1594.8 L847.4,1595.6 L856.1,1596.4 L864.7,1597.2 L873.4,1598.0 L882.1,1598.8 L890.8,1599.6 L899.4,1600.3 L908.1,1601.1 L916.8,1601.8" stroke-width="3.3" fill="none" stroke-linejoin="round" stroke-linecap="round"/>
<path d="M139.0,1488.6 L147.7,1491.1 L156.5,1493.7 L165.2,1496.3 L174.0,1498.9 L182.7,1501.6 L191.4,1504.4 L200.2,1507.2 L208.9,1510.0 L217.7,1512.8 L226.4,1515.6 L235.1,1518.4 L243.9,1521.2 L252.6,1524.0 L261.4,1526.8 L270.1,1529.6 L278.8,1532.3 L287.6,1535.0 L296.3,1537.6 L305.0,1540.2 L313.8,1542.7 L322.5,1545.1 L331.3,1547.5 L340.0,1549.8 L348.7,1552.0 L357.5,1554.1 L366.2,1556.2 L375.0,1558.1 L383.7,1560.0 L392.4,1561.8 L401.2,1563.6 L409.9,1565.3 L418.7,1566.9 L427.4,1568.4 L436.1,1569.9 L444.9,1571.3 L453.6,1572.7 L462.4,1574.0 L471.1,1575.2 L479.8,1576.4 L488.6,1577.6 L497.3,1578.7 L506.1,1579.8 L514.8,1580.8 L523.5,1581.8 L532.3,1582.7 L541.0,1583.7 L549.7,1584.5 L558.5,1585.4 L567.2,1586.2 L576.0,1587.1 L584.7,1587.8 L593.4,1588.6 L602.2,1589.4 L610.9,1590.1 L619.7,1590.8 L628.4,1591.5 L637.1,1592.2 L645.9,1592.9 L654.6,1593.6 L663.4,1594.3 L672.1,1595.0 L680.8,1595.7 L689.6,1596.4 L698.3,1597.1 L707.1,1597.8 L715.8,1598.5 L724.5,1599.3 L733.3,1600.0 L742.0,1600.8 L750.8,1601.6 L759.5,1602.4 L768.2,1603.2 L777.0,1604.1 L785.7,1605.0 L794.4,1605.9 L803.2,1606.9 L811.9,1607.9 L820.7,1608.9 L829.4,1610.0 L838.1,1611.1 L846.9,1612.3 L855.6,1613.5 L864.4,1614.7 L873.1,1616.0 L881.8,1617.4 L890.6,1618.8 L899.3,1620.3 L908.1,1621.8 L916.8,1623.4" stroke-width="3.3" fill="none" stroke-linejoin="round" stroke-linecap="round"/>
<path d="M138.2,1533.7 L146.9,1536.1 L155.7,1538.4 L164.4,1540.6 L173.2,1542.9 L181.9,1545.0 L190.7,1547.2 L199.4,1549.3 L208.2,1551.4 L216.9,1553.4 L225.7,1555.4 L234.4,1557.4 L243.2,1559.4 L251.9,1561.3 L260.7,1563.1 L269.4,1565.0 L278.2,1566.8 L286.9,1568.6 L295.7,1570.3 L304.4,1572.0 L313.2,1573.7 L321.9,1575.3 L330.7,1577.0 L339.4,1578.6 L348.2,1580.1 L356.9,1581.7 L365.7,1583.2 L374.4,1584.7 L383.2,1586.1 L391.9,1587.6 L400.6,1589.0 L409.4,1590.4 L418.1,1591.7 L426.9,1593.1 L435.6,1594.4 L444.4,1595.7 L453.1,1596.9 L461.9,1598.2 L470.6,1599.4 L479.4,1600.6 L488.1,1601.8 L496.9,1603.0 L505.6,1604.1 L514.4,1605.2 L523.1,1606.4 L531.9,1607.4 L540.6,1608.5 L549.4,1609.6 L558.1,1610.6 L566.9,1611.7 L575.6,1612.7 L584.4,1613.7 L593.1,1614.7 L601.9,1615.6 L610.6,1616.6 L619.4,1617.6 L628.1,1618.5 L636.9,1619.4 L645.6,1620.4 L654.4,1621.3 L663.1,1622.2 L671.8,1623.0 L680.6,1623.9 L689.3,1624.8 L698.1,1625.7 L706.8,1626.5 L715.6,1627.4 L724.3,1628.2 L733.1,1629.1 L741.8,1629.9 L750.6,1630.7 L759.3,1631.6 L768.1,1632.4 L776.8,1633.2 L785.6,1634.0 L794.3,1634.9 L803.1,1635.7 L811.8,1636.5 L820.6,1637.3 L829.3,1638.1 L838.1,1638.9 L846.8,1639.8 L855.6,1640.6 L864.3,1641.4 L873.1,1642.2 L881.8,1643.1 L890.6,1643.9 L899.3,1644.7 L908.1,1645.6 L916.8,1646.4" stroke-width="3.3" fill="none" stroke-linejoin="round" stroke-linecap="round"/>
<path d="M141.0,1582.8 L149.7,1584.3 L158.4,1585.8 L167.2,1587.3 L175.9,1588.8 L184.6,1590.2 L193.3,1591.7 L202.0,1593.1 L210.7,1594.6 L219.5,1596.0 L228.2,1597.5 L236.9,1598.9 L245.6,1600.3 L254.3,1601.7 L263.0,1603.1 L271.8,1604.5 L280.5,1605.8 L289.2,1607.2 L297.9,1608.6 L306.6,1609.9 L315.3,1611.2 L324.1,1612.6 L332.8,1613.9 L341.5,1615.2 L350.2,1616.5 L358.9,1617.7 L367.6,1619.0 L376.4,1620.2 L385.1,1621.5 L393.8,1622.7 L402.5,1623.9 L411.2,1625.1 L419.9,1626.3 L428.7,1627.5 L437.4,1628.6 L446.1,1629.8 L454.8,1630.9 L463.5,1632.0 L472.2,1633.1 L481.0,1634.2 L489.7,1635.3 L498.4,1636.3 L507.1,1637.4 L515.8,1638.4 L524.5,1639.4 L533.3,1640.4 L542.0,1641.4 L550.7,1642.3 L559.4,1643.2 L568.1,1644.2 L576.8,1645.1 L585.6,1646.0 L594.3,1646.8 L603.0,1647.7 L611.7,1648.5 L620.4,1649.3 L629.1,1650.1 L637.9,1650.9 L646.6,1651.6 L655.3,1652.4 L664.0,1653.1 L672.7,1653.8 L681.4,1654.4 L690.2,1655.1 L698.9,1655.7 L707.6,1656.3 L716.3,1656.9 L725.0,1657.5 L733.7,1658.1 L742.5,1658.6 L751.2,1659.1 L759.9,1659.6 L768.6,1660.0 L777.3,1660.5 L786.0,1660.9 L794.8,1661.3 L803.5,1661.6 L812.2,1662.0 L820.9,1662.3 L829.6,1662.6 L838.3,1662.8 L847.1,1663.1 L855.8,1663.3 L864.5,1663.5 L873.2,1663.7 L881.9,1663.8 L890.6,1663.9 L899.4,1664.0 L908.1,1664.1 L916.8,1664.1" stroke-width="3.3" fill="none" stroke-linejoin="round" stroke-linecap="round"/>
<path d="M142.6,1636.0 L151.3,1637.2 L160.0,1638.4 L168.7,1639.6 L177.4,1640.8 L186.1,1642.0 L194.8,1643.2 L203.5,1644.3 L212.2,1645.5 L220.9,1646.6 L229.6,1647.8 L238.3,1648.9 L247.0,1650.0 L255.7,1651.2 L264.4,1652.3 L273.1,1653.4 L281.8,1654.5 L290.5,1655.6 L299.2,1656.7 L307.9,1657.7 L316.6,1658.8 L325.3,1659.9 L334.0,1660.9 L342.7,1662.0 L351.4,1663.0 L360.1,1664.0 L368.8,1665.1 L377.5,1666.1 L386.2,1667.1 L394.9,1668.1 L403.6,1669.0 L412.3,1670.0 L421.0,1671.0 L429.7,1671.9 L438.4,1672.9 L447.1,1673.8 L455.8,1674.7 L464.5,1675.7 L473.2,1676.6 L481.9,1677.5 L490.6,1678.4 L499.3,1679.2 L508.0,1680.1 L516.7,1681.0 L525.4,1681.8 L534.0,1682.6 L542.7,1683.5 L551.4,1684.3 L560.1,1685.1 L568.8,1685.9 L577.5,1686.7 L586.2,1687.5 L594.9,1688.2 L603.6,1689.0 L612.3,1689.7 L621.0,1690.4 L629.7,1691.2 L638.4,1691.9 L647.1,1692.6 L655.8,1693.2 L664.5,1693.9 L673.2,1694.6 L681.9,1695.2 L690.6,1695.9 L699.3,1696.5 L708.0,1697.1 L716.7,1697.7 L725.4,1698.3 L734.1,1698.9 L742.8,1699.4 L751.5,1700.0 L760.2,1700.5 L768.9,1701.0 L777.6,1701.5 L786.3,1702.0 L795.0,1702.5 L803.7,1703.0 L812.4,1703.5 L821.1,1703.9 L829.8,1704.3 L838.5,1704.8 L847.2,1705.2 L855.9,1705.5 L864.6,1705.9 L873.3,1706.3 L882.0,1706.6 L890.7,1707.0 L899.4,1707.3 L908.1,1707.6 L916.8,1707.9" stroke-width="3.3" fill="none" stroke-linejoin="round" stroke-linecap="round"/>
<path d="M138.2,1693.7 L146.9,1695.3 L155.7,1696.8 L164.4,1698.2 L173.2,1699.6 L181.9,1700.9 L190.7,1702.1 L199.4,1703.3 L208.2,1704.5 L216.9,1705.6 L225.7,1706.7 L234.4,1707.7 L243.2,1708.7 L251.9,1709.7 L260.7,1710.6 L269.4,1711.5 L278.2,1712.3 L286.9,1713.2 L295.7,1714.0 L304.4,1714.8 L313.2,1715.6 L321.9,1716.4 L330.7,1717.2 L339.4,1718.0 L348.2,1718.8 L356.9,1719.6 L365.7,1720.4 L374.4,1721.2 L383.2,1722.0 L391.9,1722.8 L400.6,1723.6 L409.4,1724.4 L418.1,1725.1 L426.9,1725.9 L435.6,1726.6 L444.4,1727.3 L453.1,1728.0 L461.9,1728.6 L470.6,1729.2 L479.4,1729.8 L488.1,1730.3 L496.9,1730.9 L505.6,1731.4 L514.4,1731.9 L523.1,1732.3 L531.9,1732.8 L540.6,1733.2 L549.4,1733.7 L558.1,1734.1 L566.9,1734.5 L575.6,1735.0 L584.4,1735.4 L593.1,1735.8 L601.9,1736.2 L610.6,1736.5 L619.4,1736.9 L628.1,1737.3 L636.9,1737.6 L645.6,1738.0 L654.4,1738.3 L663.1,1738.7 L671.8,1739.0 L680.6,1739.3 L689.3,1739.6 L698.1,1739.9 L706.8,1740.2 L715.6,1740.5 L724.3,1740.8 L733.1,1741.0 L741.8,1741.3 L750.6,1741.5 L759.3,1741.8 L768.1,1742.0 L776.8,1742.3 L785.6,1742.5 L794.3,1742.7 L803.1,1742.9 L811.8,1743.1 L820.6,1743.3 L829.3,1743.5 L838.1,1743.7 L846.8,1743.9 L855.6,1744.1 L864.3,1744.2 L873.1,1744.4 L881.8,1744.5 L890.6,1744.7 L899.3,1744.8 L908.1,1745.0 L916.8,1745.1" stroke-width="3.3" fill="none" stroke-linejoin="round" stroke-linecap="round"/>
<g transform="translate(199.50,1119.50) rotate(39.0)"><g transform="scale(1.000,1) translate(-31.78,8.45)"><text x="0.00" y="0.00" font-size="26.00" font-style="italic">a=6.0</text></g></g>
<g transform="translate(172.50,1182.50) skewY(22.0) skewX(-8) scale(1.000,1)"><g transform="translate(-17.57,9.10)"><text x="0.00" y="0.00" font-size="28.00" font-style="italic">5.0</text></g></g>
<g transform="translate(171.80,1232.50) skewY(19.0) skewX(-8) scale(1.000,1)"><g transform="translate(-17.08,9.03)"><text x="0.00" y="0.00" font-size="28.00" font-style="italic">4.3</text></g></g>
<g transform="translate(174.30,1275.80) skewY(21.0) skewX(-8) scale(1.000,1)"><g transform="translate(-17.43,9.10)"><text x="0.00" y="0.00" font-size="28.00" font-style="italic">4.0</text></g></g>
<g transform="translate(175.70,1327.50) skewY(22.0) skewX(-8) scale(1.000,1)"><g transform="translate(-17.08,9.03)"><text x="0.00" y="0.00" font-size="28.00" font-style="italic">3.5</text></g></g>
<g transform="translate(175.30,1401.50) skewY(22.0) skewX(-8) scale(1.000,1)"><g transform="translate(-17.36,9.10)"><text x="0.00" y="0.00" font-size="28.00" font-style="italic">3.0</text></g></g>
<g transform="translate(178.50,1444.70) skewY(18.5) skewX(-8) scale(1.000,1)"><g transform="translate(-24.08,9.03)"><text x="0.00" y="0.00" font-size="28.00" font-style="italic">2.75</text></g></g>
<g transform="translate(173.00,1484.90) skewY(16.0) skewX(-8) scale(1.000,1)"><g transform="translate(-24.36,9.10)"><text x="0.00" y="0.00" font-size="28.00" font-style="italic">2.50</text></g></g>
<g transform="translate(174.00,1526.80) skewY(12.5) skewX(-8) scale(1.000,1)"><g transform="translate(-24.08,9.03)"><text x="0.00" y="0.00" font-size="28.00" font-style="italic">2.25</text></g></g>
<g transform="translate(172.20,1573.20) skewY(11.5) skewX(-8) scale(1.000,1)"><g transform="translate(-24.36,9.10)"><text x="0.00" y="0.00" font-size="28.00" font-style="italic">2.00</text></g></g>
<g transform="translate(175.70,1625.20) skewY(11.5) skewX(-8) scale(1.000,1)"><g transform="translate(-24.57,9.03)"><text x="0.00" y="0.00" font-size="28.00" font-style="italic">1.75</text></g></g>
<g transform="translate(171.20,1682.40) skewY(11.5) skewX(-8) scale(1.000,1)"><g transform="translate(-24.85,9.10)"><text x="0.00" y="0.00" font-size="28.00" font-style="italic">1.50</text></g></g>
<g transform="translate(32.16,1065.06) scale(1.011,1)"><text x="0.00" y="0.00" font-size="29.41">2.60</text></g>
<g transform="translate(32.16,1163.56) scale(1.011,1)"><text x="0.00" y="0.00" font-size="29.41">2.40</text></g>
<g transform="translate(31.66,1269.34) scale(0.970,1)"><text x="0.00" y="0.00" font-size="30.59">2.20</text></g>
<g transform="translate(31.66,1370.16) scale(1.004,1)"><text x="0.00" y="0.00" font-size="29.56">2.00</text></g>
<g transform="translate(32.37,1465.46) scale(0.990,1)"><text x="0.00" y="0.00" font-size="29.56">1.80</text></g>
<g transform="translate(31.63,1571.46) scale(1.004,1)"><text x="0.00" y="0.00" font-size="29.56">1.60</text></g>
<g transform="translate(31.63,1667.97) scale(1.041,1)"><text x="0.00" y="0.00" font-size="28.53">1.40</text></g>
<g transform="translate(31.63,1772.46) scale(1.004,1)"><text x="0.00" y="0.00" font-size="29.56">1.20</text></g>
<g transform="translate(122.41,1789.57) scale(1.034,1)"><text x="0.00" y="0.00" font-size="28.68">4.0</text></g>
<g transform="translate(248.62,1789.57) scale(1.066,1)"><text x="0.00" y="0.00" font-size="28.68">6.0</text></g>
<g transform="translate(378.85,1789.57) scale(0.998,1)"><text x="0.00" y="0.00" font-size="28.68">8.0</text></g>
<g transform="translate(501.96,1789.57) scale(1.025,1)"><text x="0.00" y="0.00" font-size="28.68">10.0</text></g>
<g transform="translate(632.93,1789.57) scale(1.072,1)"><text x="0.00" y="0.00" font-size="28.68">12.0</text></g>
<g transform="translate(762.54,1789.57) scale(1.070,1)"><text x="0.00" y="0.00" font-size="28.68">14.0</text></g>
<g transform="translate(879.22,1789.57) scale(1.076,1)"><text x="0.00" y="0.00" font-size="28.68">16.0</text></g>
<g transform="translate(14,1408) rotate(-90)"><text x="-7" y="5" font-size="26" font-style="italic">λ</text></g>
<g transform="translate(461.72,1822.80) scale(1.028,1)"><text x="0.00" y="0.00" font-size="31.15" font-style="italic">D</text></g>
<g transform="translate(483.38,1831.27) scale(1.019,1)"><text x="0.00" y="0.00" font-size="22.67">0</text></g>
<g transform="translate(498.60,1828.58) scale(1.240,1)"><text x="0.00" y="0.00" font-size="41.94">/</text></g>
<g transform="translate(513.89,1822.50) scale(1.134,1)"><text x="0.00" y="0.00" font-size="29.65" font-style="italic">d</text></g>
<g transform="translate(532.38,1830.28) scale(1.053,1)"><text x="0.00" y="0.00" font-size="21.93">0</text></g>
<path d="M387.5,1861.2 L387.5,1884.4 M407.0,1861.2 L407.0,1884.2 M387.5,1862.0 L408.4,1862.0 M387.5,1881.7 L407.0,1881.7" stroke-width="2.09"/>
<path d="M395.8,1863.7 L389.8,1870.7 M394.4,1865.7 L402.3,1864.8 L389.8,1875.3 M395.3,1870.0 L402.8,1873.5 M395.5,1874.4 L398.6,1876.3 M393.0,1878.2 L400.9,1880.6" stroke-width="1.90"/>
<g transform="translate(416.62,1884.00) scale(1.251,1)"><text x="0.00" y="0.00" font-size="26.10" font-style="italic">λ</text></g>
<g transform="translate(435.33,1884.72) scale(1.082,1)"><text x="0.00" y="0.00" font-size="32.80">=</text></g>
<g transform="translate(460.26,1882.01) scale(1.111,1)"><text x="0.00" y="0.00" font-size="31.09" font-style="italic">φ</text></g>
<g transform="translate(483.34,1884.97) scale(1.010,1)"><text x="0.00" y="0.00" font-size="29.89">(</text></g>
<g transform="translate(496.88,1884.62) scale(0.969,1)"><text x="0.00" y="0.00" font-size="28.33" font-style="italic">a</text></g>
<g transform="translate(513.00,1886.66) scale(0.818,1)"><text x="0.00" y="0.00" font-size="39.61">,</text></g>
<g transform="translate(533.48,1864.20) scale(0.890,1)"><text x="0.00" y="0.00" font-size="31.60" font-style="italic">D</text></g>
<g transform="translate(554.15,1871.08) scale(0.966,1)"><text x="0.00" y="0.00" font-size="21.93">0</text></g>
<line x1="523.1" y1="1874.9" x2="565.1" y2="1874.9" stroke-width="1.5"/>
<g transform="translate(530.46,1897.64) scale(1.213,1)"><text x="0.00" y="0.00" font-size="25.96" font-style="italic">d</text></g>
<g transform="translate(551.20,1901.19) scale(1.071,1)"><text x="0.00" y="0.00" font-size="20.89">0</text></g>
<g transform="translate(569.44,1884.97) scale(1.068,1)"><text x="0.00" y="0.00" font-size="29.89">)</text></g>
<g transform="translate(490.60,1940.72) scale(0.975,1)"><text x="0.00" y="0.00" font-size="27.66">b</text></g>
<g transform="translate(503.84,1941.07) scale(1.068,1)"><text x="0.00" y="0.00" font-size="29.89">)</text></g>
<g transform="translate(443.42,892.00) scale(1.028,1)"><text x="0.00" y="0.00" font-size="31.15" font-style="italic">D</text></g>
<g transform="translate(465.08,900.47) scale(1.019,1)"><text x="0.00" y="0.00" font-size="22.67">0</text></g>
<g transform="translate(480.30,897.78) scale(1.240,1)"><text x="0.00" y="0.00" font-size="41.94">/</text></g>
<g transform="translate(495.59,891.70) scale(1.134,1)"><text x="0.00" y="0.00" font-size="29.65" font-style="italic">d</text></g>
<g transform="translate(514.08,899.48) scale(1.053,1)"><text x="0.00" y="0.00" font-size="21.93">0</text></g>
</svg></body></html>
